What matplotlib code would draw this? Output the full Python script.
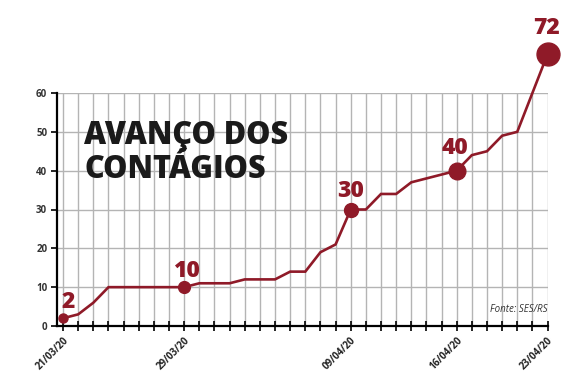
import matplotlib
matplotlib.use('Agg')
import matplotlib.pyplot as plt

# daily accumulated cases, one value per tick (21/03/20 .. 23/04/20 as drawn)
cases = [2, 3, 6, 10, 10, 10, 10, 10, 10, 11, 11, 11, 12, 12, 12, 14, 14,
         19, 21, 30, 30, 34, 34, 37, 38, 39, 40, 44, 45, 49, 50, 60, 70]
date_idx = [0, 8, 19, 26, 32]
date_labels = ['21/03/20', '29/03/20', '09/04/20', '16/04/20', '23/04/20']
highlight_text = ['2', '10', '30', '40', '72']
yticks = [0, 10, 20, 30, 40, 50, 60]

RED = '#8f1a28'
GRID = '#b4b4b4'

plt.rcParams['font.family'] = ['Open Sans', 'DejaVu Sans']

fig = plt.figure(figsize=(5.86, 3.89), dpi=100)
ax = fig.add_axes([57 / 586, 1 - 326 / 389, (548 - 57) / 586, (326 - 93) / 389])

x = list(range(len(cases)))
ax.plot(x, cases, color=RED, linewidth=1.9, clip_on=False, zorder=3,
        solid_joinstyle='miter')

# highlighted points grow in size
dot_sizes = [6.5, 8.5, 10, 12, 16.5]
offsets = [(4, 11.5), (1.5, 11.5), (0, 13), (-1, 16.5), (-1, 19)]
for i, idx in enumerate(date_idx):
    ax.plot(idx, cases[idx], 'o', color=RED, markersize=dot_sizes[i],
            clip_on=False, zorder=4)
    ax.annotate(highlight_text[i], (idx, cases[idx]), xytext=offsets[i],
                textcoords='offset points', ha='center', va='center',
                fontsize=16.5, fontweight=800, color=RED, zorder=5,
                annotation_clip=False)

ax.set_xlim(-0.4, len(cases) - 1 + 0.03)
ax.set_ylim(0, 60)

ax.set_xticks(x, minor=True)
ax.set_xticks(date_idx)
ax.set_xticklabels(date_labels, rotation=45, ha='right', rotation_mode='anchor',
                   fontsize=7, fontweight='bold', color='#222222')
ax.set_yticks(yticks)
ax.set_yticklabels([str(v) for v in yticks], fontsize=7, fontweight='bold',
                   color='#333333')

ax.grid(True, which='both', axis='x', color=GRID, linewidth=1.0, zorder=0)
ax.grid(True, which='major', axis='y', color=GRID, linewidth=1.0, zorder=0)
ax.set_axisbelow(True)

for s in ['top', 'right']:
    ax.spines[s].set_visible(False)
ax.spines['bottom'].set_linewidth(1.6)
ax.spines['left'].set_linewidth(1.6)
ax.tick_params(axis='x', which='both', direction='inout', length=7, width=1.2,
               pad=3)
ax.tick_params(axis='y', direction='out', length=4, width=1.2, pad=3)

ax.text(0.055, 0.885, 'AVANÇO DOS\nCONTÁGIOS', transform=ax.transAxes,
        fontsize=22, fontweight=800, color='#1a1a1a', va='top', ha='left',
        linespacing=1.08)

ax.text(1.0, 0.07, 'Fonte: SES/RS', transform=ax.transAxes, fontsize=7,
        style='italic', color='#333333', ha='right', va='center')

fig.savefig('out.png', dpi=100, facecolor='white')
